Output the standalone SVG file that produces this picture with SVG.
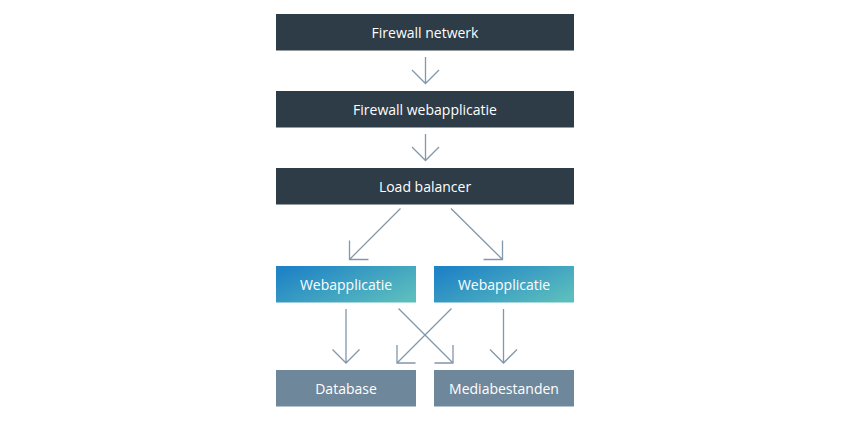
<svg xmlns="http://www.w3.org/2000/svg" width="850" height="422" viewBox="0 0 850 422">
<style>
.dark{fill:#2d3c47}
.grey{fill:#6f879a}
.t{font-family:"Open Sans","DejaVu Sans",sans-serif;font-size:14px;fill:#ffffff;text-anchor:middle;dominant-baseline:central}
.c{fill:none;stroke:#8197aa;stroke-width:1.3}
</style>
<defs>
<linearGradient id="g" x1="0" y1="0.2" x2="1" y2="0.8">
<stop offset="0" stop-color="#1f83c6"/>
<stop offset="1" stop-color="#5bbdbd"/>
</linearGradient>
</defs>
<rect width="850" height="422" fill="#ffffff"/>
<g id="firewall-netwerk"><rect class="dark" x="276" y="14" width="298" height="36.5"/><text class="t" x="425" y="32">Firewall netwerk</text></g>
<g id="firewall-webapplicatie"><rect class="dark" x="276" y="91" width="298" height="36.5"/><text class="t" x="425" y="109">Firewall webapplicatie</text></g>
<g id="load-balancer"><rect class="dark" x="276" y="168" width="298" height="36.5"/><text class="t" x="425" y="186">Load balancer</text></g>
<g id="webapplicatie-1"><rect fill="url(#g)" x="276" y="266" width="140" height="36.5"/><text class="t" x="346" y="284">Webapplicatie</text></g>
<g id="webapplicatie-2"><rect fill="url(#g)" x="434" y="266" width="140" height="36.5"/><text class="t" x="504" y="284">Webapplicatie</text></g>
<g id="database"><rect class="grey" x="276" y="370" width="140" height="36.5"/><text class="t" x="346" y="388">Database</text></g>
<g id="mediabestanden"><rect class="grey" x="434" y="370" width="140" height="36.5"/><text class="t" x="504" y="388">Mediabestanden</text></g>
<g id="connectors">
<path class="c" stroke="#9fb0bf" d="M425.5 57V83.5M412 70L425.5 83.5L439 70"/>
<path class="c" stroke="#9fb0bf" d="M425.5 134V160.5M412 147L425.5 160.5L439 147"/>
<path class="c" d="M400.5 208.5L349.5 259.5M349.5 240.5V259.5H368.5"/>
<path class="c" d="M451 208.5L502.5 259.5M502.5 240.5V259.5H483.5"/>
<path class="c" d="M346 309V363M332.5 349.5L346 363L359.5 349.5"/>
<path class="c" d="M503.5 309V363M490 349.5L503.5 363L517 349.5"/>
<path class="c" d="M398.5 308.5L453 363M453 345V363H434.5"/>
<path class="c" d="M451.5 308.5L397 363M397 345V363H415.5"/>
</g>
</svg>
